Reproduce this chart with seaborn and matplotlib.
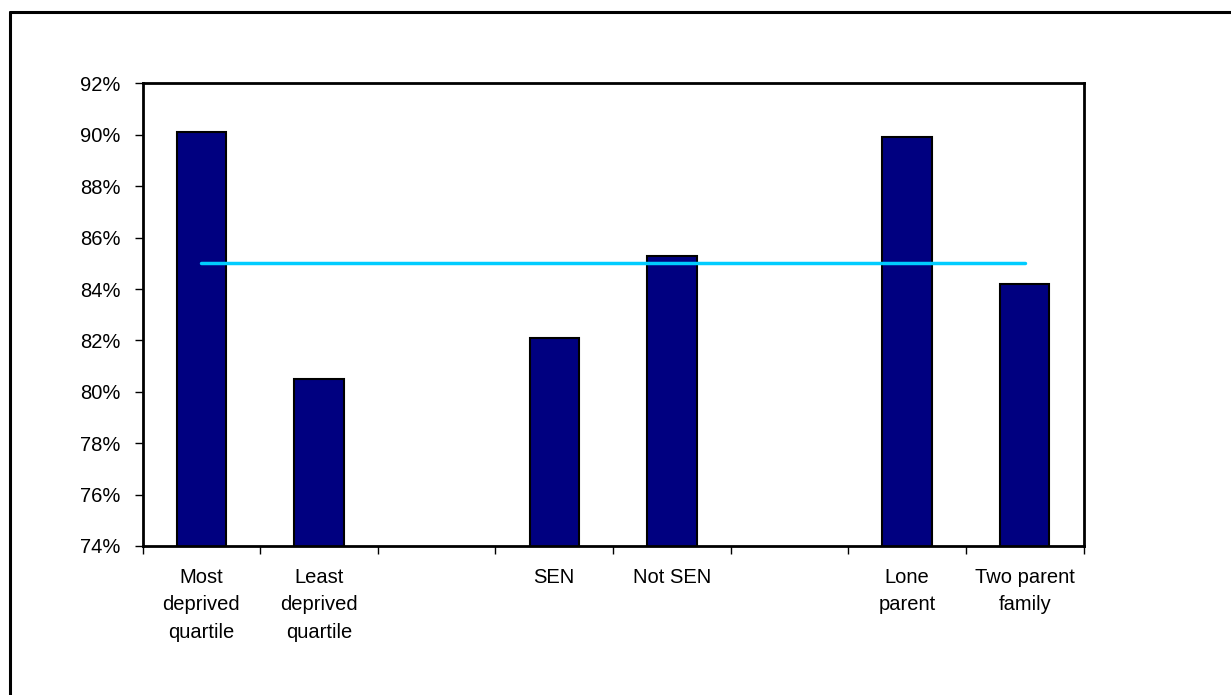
import matplotlib
matplotlib.use("Agg")
import matplotlib.pyplot as plt
from matplotlib.lines import Line2D
from matplotlib.ticker import FuncFormatter, FixedLocator
import seaborn as sns
import pandas as pd
import numpy as np

# Groups (empty slots separate the three comparisons)
groups = ["Most\ndeprived\nquartile", "Least\ndeprived\nquartile", "",
          "SEN", "Not SEN", " ",
          "Lone\nparent", "Two parent\nfamily"]
rates = [90.1, 80.5, np.nan, 82.1, 85.3, np.nan, 89.9, 84.2]
all_pupils = [85.0, 85.0, 85.0, 85.0, 85.0, 85.0, 85.0, 85.0]
y_ticks = [74, 76, 78, 80, 82, 84, 86, 88, 90, 92]

sns.set_theme(style="white")
plt.rcParams["font.family"] = ["Liberation Sans", "DejaVu Sans"]
plt.rcParams["text.color"] = "black"
plt.rcParams["xtick.color"] = "black"
plt.rcParams["ytick.color"] = "black"

fig = plt.figure(figsize=(12.31, 6.95), dpi=100)
ax = fig.add_axes([0.1158, 0.2144, 0.8802 - 0.1158, 0.8799 - 0.2144])

df = pd.DataFrame({"group": groups, "rate": rates})
sns.barplot(data=df, x="group", y="rate", order=groups, ax=ax,
            color="#000080", saturation=1, width=0.42,
            edgecolor="black", linewidth=1.5)
sns.lineplot(x=np.arange(len(groups)), y=all_pupils, ax=ax,
             color="#00CCFF", linewidth=2.5)

ax.set_xlim(-0.5, len(groups) - 0.5)
ax.set_ylim(74, 92)
ax.set_xlabel("")
ax.set_ylabel("")

# tick marks sit between the groups; labels are centred under the bars
ax.xaxis.set_major_locator(FixedLocator(np.arange(-0.5, len(groups), 1.0)))
ax.xaxis.set_minor_locator(FixedLocator(np.arange(len(groups))))
ax.set_xticklabels([], minor=False)
ax.set_xticklabels(groups, minor=True, fontsize=14.5, linespacing=1.55,
                   va="top", color="black")
ax.tick_params(axis="x", which="major", direction="out", length=6,
               width=1, color="black", bottom=True)
ax.tick_params(axis="x", which="minor", length=0, pad=16, bottom=True,
               labelcolor="black")

ax.yaxis.set_major_locator(FixedLocator(y_ticks))
ax.yaxis.set_major_formatter(FuncFormatter(lambda v, p: f"{v:.0f}%"))
ax.tick_params(axis="y", direction="out", length=6, width=1,
               color="black", labelcolor="black", labelsize=14.5, pad=10,
               left=True)

for s in ax.spines.values():
    s.set_visible(True)
    s.set_color("black")
    s.set_linewidth(2)

# outer chart frame
fig.add_artist(Line2D([9.5 / 1231, 1.0], [1 - 11.5 / 695, 1 - 11.5 / 695],
                      transform=fig.transFigure, color="black", linewidth=2.2))
fig.add_artist(Line2D([9.5 / 1231, 9.5 / 1231], [0.0, 1 - 11.5 / 695],
                      transform=fig.transFigure, color="black", linewidth=2.2))

fig.savefig("out.png", dpi=100, facecolor="white")
